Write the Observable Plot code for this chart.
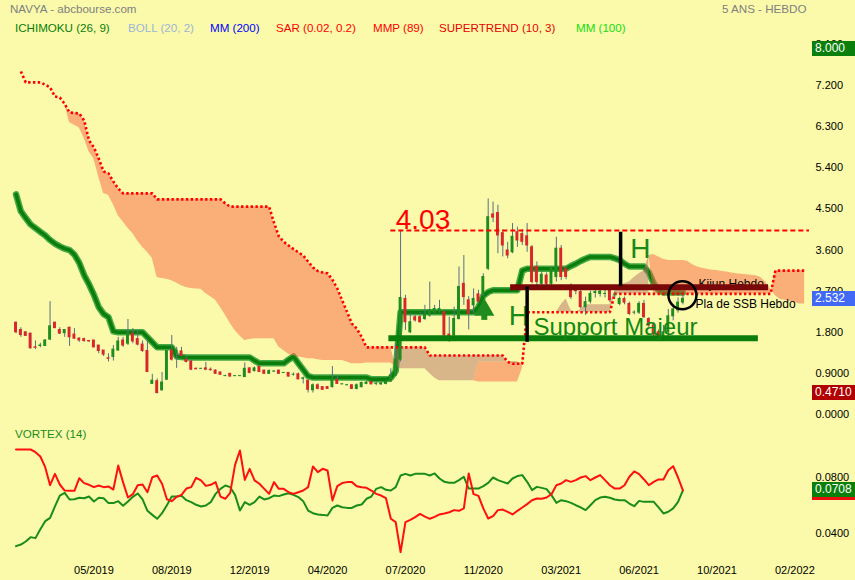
<!DOCTYPE html>
<html><head><meta charset="utf-8">
<script src="https://cdn.jsdelivr.net/npm/d3@7"></script>
<script src="https://cdn.jsdelivr.net/npm/@observablehq/plot@0.6"></script>
<style>
body{margin:0;background:#FAFAAA;}
#wrap{position:relative;width:855px;height:580px;background:#FAFAAA;overflow:hidden;font-family:"Liberation Sans",Arial,sans-serif;}
.t{position:absolute;white-space:nowrap;font-size:11.6px;line-height:14px;}
.tag{position:absolute;left:812px;width:43px;height:15px;line-height:15px;color:#fff;font-size:12px;padding-left:3px;box-sizing:border-box;white-space:nowrap;}
</style></head><body>
<div id="wrap">
<div id="main" style="position:absolute;left:0;top:0"></div>
<div id="vortex" style="position:absolute;left:0;top:425px"></div>
<div class="t" style="left:10px;top:2px;color:#808080">NAVYA - abcbourse.com</div>
<div class="t" style="left:722px;top:2px;color:#808080">5 ANS - HEBDO</div>
<div class="t" style="left:15px;top:21px;color:#0A7D0A">ICHIMOKU (26, 9)</div>
<div class="t" style="left:128px;top:21px;color:#9DB5D6">BOLL (20, 2)</div>
<div class="t" style="left:210px;top:21px;color:#0000FF">MM (200)</div>
<div class="t" style="left:276px;top:21px;color:#FF0000">SAR (0.02, 0.2)</div>
<div class="t" style="left:373px;top:21px;color:#FF0000">MMP (89)</div>
<div class="t" style="left:439px;top:21px;color:#E80000">SUPERTREND (10, 3)</div>
<div class="t" style="left:576px;top:21px;color:#11DD11">MM (100)</div>
<div class="t" style="left:15px;top:427px;color:#1A8C1A">VORTEX (14)</div>
</div>
<script>
// ---------- axis ticks ----------
const xTickIdx = [16, 32, 48, 64, 80, 96, 112, 128, 144, 160];
const xTickLabels = ["05/2019","08/2019","12/2019","04/2020","07/2020","11/2020","03/2021","06/2021","10/2021","02/2022"];
const priceTicks = [0, 0.9, 1.8, 2.7, 3.6, 4.5, 5.4, 6.3, 7.2, 8.1];
const vortexTicks = [0.04, 0.08];

// ---------- weekly candles ----------
const openP = [
2.01,1.85,1.80,1.77,1.47,1.50,1.50,1.64,2.01,1.85,
1.78,1.90,1.75,1.66,1.65,1.61,1.62,1.51,1.40,1.23,
1.26,1.40,1.62,1.55,1.77,1.65,1.53,1.39,0.67,0.73,
0.53,0.76,1.40,1.35,1.38,1.20,1.16,1.00,1.00,1.01,
0.98,0.96,0.92,0.84,0.89,0.84,0.84,0.82,1.01,0.95,
1.04,0.96,0.89,0.94,0.96,0.91,0.91,0.87,0.88,0.78,
0.74,0.53,0.64,0.60,0.60,0.60,0.76,0.66,0.64,0.64,
0.56,0.60,0.67,0.71,0.67,0.66,0.67,0.72,0.85,1.20,
2.53,1.80,2.13,2.13,2.09,2.17,2.24,2.26,2.24,1.75,
1.73,2.09,2.86,2.50,2.39,2.63,2.64,3.19,4.38,4.41,
3.97,3.59,3.55,3.99,3.95,3.90,3.66,3.23,2.86,3.04,
2.86,3.01,3.63,3.19,2.79,2.72,2.68,2.35,2.47,2.66,
2.64,2.64,2.75,2.61,2.42,2.53,2.42,2.23,2.23,2.42,
2.09,1.95,1.80,1.72,1.80,2.15,2.28,2.45];
const highP = [
2.02,1.90,1.81,1.78,1.61,1.56,1.64,2.47,2.02,1.90,
1.85,1.91,1.88,1.68,1.67,1.62,1.62,1.51,1.40,1.33,
1.51,1.69,1.69,2.08,1.88,1.84,1.61,1.64,0.88,0.78,
0.92,1.40,1.73,1.47,1.47,1.26,1.18,1.02,1.01,1.14,
1.02,0.98,0.93,0.86,0.90,0.85,0.85,1.13,1.02,1.04,
1.05,0.97,0.98,0.96,0.97,0.92,0.92,0.91,0.91,0.82,
0.76,0.67,0.67,0.61,0.61,1.05,0.85,0.68,0.66,0.65,
0.67,0.71,0.72,0.72,0.72,0.70,0.74,1.00,1.55,4.03,
2.61,2.20,2.20,2.24,2.39,2.90,2.39,2.50,2.28,2.13,
2.35,3.23,3.48,2.58,2.75,2.72,3.08,4.72,4.65,4.58,
4.04,3.77,4.18,4.10,4.05,4.18,3.70,3.34,3.12,3.10,
3.23,3.88,3.70,3.25,2.86,2.80,2.75,2.57,2.70,2.77,
2.75,2.72,2.80,2.68,2.57,2.57,2.46,2.27,2.47,2.50,
2.12,2.00,1.85,1.95,2.30,2.40,2.55,2.62];
const lowP = [
1.77,1.69,1.71,1.43,1.42,1.46,1.49,1.62,1.88,1.75,
1.69,1.49,1.64,1.58,1.58,1.58,1.46,1.33,1.27,1.15,
1.17,1.39,1.47,1.51,1.55,1.50,1.36,0.92,0.66,0.45,
0.51,0.75,1.17,1.01,1.26,1.13,0.96,0.98,0.99,0.96,
0.95,0.88,0.86,0.83,0.82,0.83,0.83,0.81,0.89,0.93,
0.92,0.88,0.88,0.92,0.88,0.90,0.82,0.84,0.76,0.67,
0.47,0.47,0.54,0.53,0.55,0.58,0.66,0.65,0.63,0.55,
0.54,0.58,0.65,0.65,0.63,0.64,0.65,0.70,0.83,1.15,
1.84,1.77,2.02,2.00,2.06,2.13,2.20,2.22,1.71,1.58,
1.69,2.07,2.39,1.85,2.20,2.42,2.57,3.15,4.20,3.52,
3.45,3.41,3.52,3.66,3.70,3.55,2.86,2.75,2.82,2.80,
2.82,2.90,2.93,2.95,2.52,2.62,2.31,2.17,2.42,2.55,
2.57,2.55,2.45,2.55,2.38,2.40,2.17,2.18,2.19,2.10,
1.90,1.70,1.62,1.65,1.70,2.05,2.22,2.40];
const closeP = [
1.80,1.74,1.72,1.45,1.46,1.51,1.62,1.93,1.89,1.77,
1.85,1.69,1.66,1.62,1.61,1.60,1.47,1.39,1.31,1.22,
1.42,1.60,1.51,1.77,1.60,1.53,1.39,0.93,0.74,0.47,
0.70,1.39,1.20,1.40,1.28,1.15,0.98,0.99,1.00,0.98,
0.97,0.89,0.87,0.84,0.83,0.84,0.84,1.00,0.91,1.01,
0.93,0.89,0.95,0.94,0.89,0.91,0.83,0.87,0.77,0.79,
0.54,0.64,0.56,0.54,0.56,0.78,0.67,0.66,0.64,0.56,
0.64,0.69,0.70,0.66,0.67,0.68,0.71,0.85,1.20,2.55,
2.02,2.02,2.06,2.02,2.19,2.28,2.31,2.31,1.73,1.72,
2.09,2.79,2.57,2.20,2.53,2.47,3.01,4.32,4.31,3.92,
3.70,3.48,3.89,3.81,3.78,3.70,2.90,2.90,3.06,2.86,
3.19,3.63,3.01,3.01,2.57,2.70,2.35,2.46,2.64,2.68,
2.69,2.64,2.50,2.61,2.53,2.45,2.20,2.23,2.42,2.13,
1.95,1.75,1.72,1.80,2.15,2.30,2.45,2.532];

// ---------- Ichimoku ----------
const kijun = [
4.82,4.45,4.30,4.16,4.08,4.00,3.92,3.82,3.74,3.68,
3.63,3.60,3.50,3.32,3.05,2.85,2.62,2.35,2.20,2.13,
1.82,1.80,1.80,1.80,1.80,1.80,1.80,1.69,1.58,1.47,
1.47,1.47,1.47,1.27,1.26,1.25,1.25,1.25,1.25,1.25,
1.25,1.25,1.25,1.25,1.25,1.25,1.25,1.25,1.25,1.18,
1.12,1.12,1.12,1.12,1.12,1.12,1.20,1.27,1.12,0.98,
0.84,0.81,0.81,0.81,0.81,0.81,0.81,0.81,0.81,0.81,
0.81,0.81,0.81,0.77,0.77,0.77,0.77,0.80,0.95,2.24,
2.24,2.24,2.24,2.24,2.24,2.24,2.24,2.24,2.24,2.24,
2.24,2.24,2.24,2.24,2.24,2.35,2.60,2.68,2.72,2.72,
2.72,2.72,2.72,2.72,3.15,3.19,3.19,3.19,3.19,3.19,
3.19,3.19,3.19,3.19,3.25,3.30,3.36,3.41,3.45,3.45,
3.45,3.45,3.45,3.42,3.38,3.30,3.24,3.24,3.24,3.24,
3.11,2.87,2.72,2.67,2.67,2.67,2.67,2.67];
// Senkou span B (red dotted), shifted 26 weeks ahead
const ssb = [
null,7.51,7.27,7.27,7.27,7.27,7.22,7.16,6.96,6.94,
6.80,6.61,6.60,6.59,6.44,6.00,5.85,5.60,5.32,5.28,
5.10,4.95,4.84,4.84,4.84,4.84,4.84,4.84,4.84,4.71,
4.71,4.71,4.71,4.71,4.71,4.71,4.71,4.71,4.71,4.71,
4.71,4.71,4.71,4.62,4.55,4.55,4.55,4.55,4.55,4.55,
4.55,4.55,4.55,4.20,3.90,3.78,3.70,3.62,3.55,3.48,
3.35,3.22,3.14,3.11,3.09,2.95,2.76,2.50,2.25,1.99,
1.88,1.70,1.47,1.47,1.47,1.47,1.47,1.47,1.47,1.47,
1.47,1.47,1.47,1.47,1.47,1.29,1.29,1.29,1.29,1.29,
1.29,1.29,1.29,1.29,1.29,1.29,1.29,1.29,1.29,1.29,
1.29,1.15,1.11,1.11,1.11,2.24,2.24,2.24,2.24,2.24,
2.24,2.24,2.24,2.24,2.24,2.24,2.24,2.24,2.24,2.24,
2.24,2.24,2.24,2.64,2.64,2.64,2.64,2.64,2.64,2.64,
2.64,2.64,2.64,2.64,2.64,2.64,2.64,2.64,2.64,2.64,
2.64,2.64,2.64,2.64,2.64,2.64,2.64,2.64,2.64,2.64,
2.64,2.64,2.64,2.64,2.64,2.64,3.15,3.15,3.15,3.15,
3.15,3.15,3.15];
// Senkou span A (other cloud edge)
const ssa = [
null,null,null,null,null,null,null,null,null,null,
6.80,6.39,6.33,6.28,6.05,5.75,5.60,5.20,4.84,4.80,
4.60,4.35,4.22,4.08,3.96,3.80,3.66,3.55,3.42,3.00,
2.98,2.96,2.93,2.88,2.82,2.78,2.76,2.75,2.74,2.65,
2.58,2.50,2.35,2.18,2.00,1.84,1.72,1.62,1.64,1.66,
1.66,1.66,1.66,1.66,1.48,1.40,1.32,1.28,1.26,1.24,
1.22,1.22,1.20,1.18,1.18,1.18,1.18,1.18,1.15,1.11,
1.11,1.11,1.13,1.13,1.13,1.13,1.13,1.13,1.05,1.00,
1.00,1.00,1.00,1.00,1.00,0.90,0.80,0.74,0.74,0.74,
0.74,0.74,0.74,0.74,0.74,0.71,0.71,0.71,0.71,0.71,
0.71,0.71,0.71,0.71,1.00,2.24,2.24,2.24,2.24,2.24,
2.24,2.24,2.40,2.53,2.28,2.24,2.30,2.40,2.40,2.40,
2.40,2.40,2.40,2.70,2.82,2.86,2.90,3.00,3.08,3.14,
3.48,3.50,3.45,3.40,3.37,3.37,3.37,3.37,3.35,3.28,
3.23,3.20,3.18,3.16,3.15,3.13,3.12,3.10,3.08,3.07,
3.06,3.05,3.04,3.00,2.90,2.75,2.60,2.52,2.50,2.48,
2.45,2.42,2.42];
// edge of the tan part of the cloud
const tanEdge = [
null,null,null,null,null,null,null,null,null,null,
null,null,null,null,null,null,null,null,null,null,
null,null,null,null,null,null,null,null,null,null,
null,null,null,null,null,null,null,null,null,null,
null,null,null,null,null,null,null,null,null,null,
null,null,null,null,null,null,null,null,null,null,
null,null,null,null,null,null,null,null,null,null,
null,null,null,null,null,null,null,null,1.05,1.00,
1.00,1.00,1.00,1.00,1.00,0.90,0.80,0.74,0.74,0.74,
0.74,0.74,0.74,0.74,0.74,1.15,1.15,1.15,1.15,1.15,
1.15,1.15,1.15,1.15,null,null,null,null,null,null,
null,2.24,2.40,2.53,2.28,2.24,2.30,2.40,2.40,2.40,
2.40,2.40,2.40,2.70,2.82,2.86,2.90,3.00,3.08,3.14,
3.48,null,null,null,null,null,null,null,null,null,
null,null,null,null,null,null,null,null,null,null,
null,null,null,null,null,null,null,null,null,null,
null,null,null];

// ---------- Vortex (14) ----------
const viPlus = [
0.0310,0.0321,0.0343,0.0374,0.0367,0.0431,0.0488,0.0512,0.0593,0.0671,
0.0690,0.0643,0.0645,0.0655,0.0652,0.0664,0.0629,0.0655,0.0652,0.0617,
0.0617,0.0631,0.0598,0.0629,0.0662,0.0686,0.0643,0.0562,0.0533,0.0505,
0.0545,0.0602,0.0664,0.0664,0.0669,0.0638,0.0624,0.0605,0.0593,0.0600,
0.0624,0.0683,0.0719,0.0743,0.0731,0.0676,0.0564,0.0624,0.0605,0.0624,
0.0664,0.0643,0.0652,0.0671,0.0667,0.0679,0.0688,0.0676,0.0660,0.0631,
0.0564,0.0545,0.0536,0.0533,0.0529,0.0583,0.0600,0.0588,0.0583,0.0583,
0.0600,0.0607,0.0648,0.0664,0.0719,0.0731,0.0712,0.0707,0.0731,0.0814,
0.0826,0.0814,0.0826,0.0826,0.0826,0.0814,0.0829,0.0793,0.0769,0.0762,
0.0762,0.0781,0.0805,0.0721,0.0721,0.0721,0.0738,0.0762,0.0800,0.0781,
0.0769,0.0757,0.0793,0.0810,0.0817,0.0769,0.0710,0.0733,0.0726,0.0717,
0.0674,0.0619,0.0638,0.0631,0.0619,0.0602,0.0586,0.0567,0.0602,0.0638,
0.0657,0.0662,0.0655,0.0643,0.0638,0.0638,0.0614,0.0595,0.0633,0.0626,
0.0626,0.0626,0.0586,0.0543,0.0555,0.0579,0.0626,0.0708];
const viMinus = [
0.1000,0.1000,0.1000,0.1000,0.0981,0.0950,0.0874,0.0745,0.0826,0.0750,
0.0707,0.0705,0.0705,0.0795,0.0760,0.0748,0.0731,0.0743,0.0731,0.0736,
0.0714,0.0885,0.0765,0.0657,0.0681,0.0745,0.0750,0.0695,0.0802,0.0814,
0.0755,0.0645,0.0631,0.0662,0.0676,0.0721,0.0731,0.0798,0.0779,0.0740,
0.0748,0.0767,0.0664,0.0648,0.0690,0.0890,0.0993,0.0783,0.0862,0.0779,
0.0755,0.0719,0.0683,0.0767,0.0719,0.0719,0.0695,0.0683,0.0695,0.0707,
0.0731,0.0879,0.0838,0.0862,0.0850,0.0636,0.0738,0.0760,0.0767,0.0767,
0.0738,0.0731,0.0726,0.0707,0.0683,0.0671,0.0652,0.0505,0.0481,0.0267,
0.0481,0.0498,0.0517,0.0540,0.0521,0.0505,0.0519,0.0536,0.0543,0.0552,
0.0567,0.0562,0.0579,0.0829,0.0681,0.0669,0.0579,0.0507,0.0524,0.0567,
0.0571,0.0555,0.0536,0.0562,0.0586,0.0610,0.0638,0.0650,0.0648,0.0657,
0.0681,0.0745,0.0757,0.0781,0.0769,0.0781,0.0800,0.0810,0.0781,0.0800,
0.0817,0.0781,0.0745,0.0721,0.0721,0.0745,0.0805,0.0843,0.0824,0.0786,
0.0745,0.0769,0.0786,0.0786,0.0852,0.0881,0.0800,0.0708];

// ---------- annotations (data units: week index / price) ----------
const level403 = [{value: 4.03, from: 77, to: 163}];
const priceNote = [{text: "4.03", i: 78, v: 4.07}];
const supportLine = [{value: 1.67, from: 76.6, to: 152.5}];
const kijunHebdoLine = [{value: 2.785, from: 101.6, to: 154.6}];
const blackBars = [{i: 105.0, low: 1.58, high: 2.79}, {i: 124.2, low: 2.80, high: 3.99}];
const hNotes = [{text: "H", i: 101.2, v: 1.95}, {text: "H", i: 126.2, v: 3.42}];
const supportNote = [{text: "Support Majeur", i: 106.3, v: 1.75}];
const blackNotes = [{text: "Kijun Hebdo", i: 140.2, v: 2.78}, {text: "Pla de SSB Hebdo", i: 139.6, v: 2.34}];
const circleNote = [{i: 136.9, v: 2.61}];
const arrowNote = [{i: 96.2, base: 2.06, top: 2.25, head: 2.29}];
const priceTags = [8.0, 2.532, 0.471];
const vortexTag = [0.0708, 0.0708];

// ---------- style constants ----------
const FONT = "Liberation Sans, Arial, sans-serif";
const GREEN = "#1E8C1E", RED = "#D8262A";
const priceTagColors = ["#0B7F0B", "#4169F5", "#B00000"];
const vortexTagColors = ["#E81010", "#0B7F0B"];
const vortexTagShift = [3, 0];
const fmtPrice = d => d < 1 ? d.toFixed(4) : d.toFixed(3);

const candles = openP.map((o, i) => ({i, o, h: highP[i], l: lowP[i], c: closeP[i]}));
const cloud = ssb.map((b, i) => ({i, b, a: ssa[i], t: tanEdge[i]}));

const xScale = {domain: [0, 160], range: [15.5, 15.5 + 160 * 4.868], axis: null};

const main = Plot.plot({
  width: 855, height: 425,
  marginLeft: 0, marginRight: 44, marginTop: 0, marginBottom: 0,
  x: xScale,
  y: {domain: [0, 8.1], range: [414, 44], axis: null},
  style: {background: "transparent", fontFamily: FONT, fontSize: "11px", color: "#000", overflow: "visible"},
  marks: [
    Plot.line(kijun, {x: (d, i) => i, y: d => d, stroke: "#45A845", strokeWidth: 6.5}),
    Plot.line(kijun, {x: (d, i) => i, y: d => d, stroke: "#0A7D0A", strokeWidth: 3.5}),
    Plot.areaY(cloud, {x: "i", y1: d => (d.t ?? d.b), y2: "a", fill: "rgb(252,100,70)", fillOpacity: 0.5}),
    Plot.areaY(cloud, {x: "i", y1: "b", y2: "t", fill: "rgb(184,114,106)", fillOpacity: 0.5}),
    Plot.line(ssb, {x: (d, i) => i, y: d => d, stroke: "#FF0000", strokeWidth: 2.6, strokeDasharray: "2.4,2.4", strokeLinecap: "butt", strokeLinejoin: "miter"}),
    Plot.ruleX(candles, {x: "i", y1: "l", y2: "h", stroke: "#5A6E84", strokeWidth: 1}),
    Plot.rect(candles.filter(d => d.c >= d.o), {x1: d => d.i - 0.3, x2: d => d.i + 0.3, y1: "o", y2: "c", fill: GREEN, insetTop: -0.5, insetBottom: -0.5}),
    Plot.rect(candles.filter(d => d.c < d.o), {x1: d => d.i - 0.3, x2: d => d.i + 0.3, y1: "c", y2: "o", fill: RED, insetTop: -0.5, insetBottom: -0.5}),
    Plot.ruleY(level403, {y: "value", x1: "from", x2: "to", stroke: "#FF0000", strokeWidth: 2, strokeDasharray: "5,3", strokeLinecap: "butt"}),
    Plot.text(priceNote, {x: "i", y: "v", text: "text", fill: "#FF0000", fontSize: 28, textAnchor: "start", lineAnchor: "bottom"}),
    Plot.ruleY(supportLine, {y: "value", x1: "from", x2: "to", stroke: "#0B7D0B", strokeWidth: 6}),
    Plot.text(supportNote, {x: "i", y: "v", text: "text", fill: "#118811", fontSize: 24, textAnchor: "start", lineAnchor: "bottom"}),
    Plot.text(hNotes, {x: "i", y: "v", text: "text", fill: "#178A17", fontSize: 28, textAnchor: "start", lineAnchor: "bottom"}),
    Plot.text(blackNotes, {x: "i", y: "v", text: "text", fill: "#000", fontSize: 12, textAnchor: "start", lineAnchor: "bottom"}),
    Plot.ruleY(kijunHebdoLine, {y: "value", x1: "from", x2: "to", stroke: "#7A0808", strokeWidth: 6}),
    Plot.ruleX(blackBars, {x: "i", y1: "low", y2: "high", stroke: "#000", strokeWidth: 3.5}),
    Plot.dot(circleNote, {x: "i", y: "v", r: 14, stroke: "#000", strokeWidth: 2.5, fill: "none"}),
    Plot.ruleX(arrowNote, {x: "i", y1: "base", y2: "top", stroke: "#1E8C1E", strokeWidth: 6}),
    Plot.dot(arrowNote, {x: "i", y: "head", symbol: "triangle", r: 6.5, fill: "#1E8C1E", stroke: "#1E8C1E"}),
    Plot.axisY({anchor: "right", ticks: priceTicks, tickFormat: fmtPrice, tickSize: 0, tickPadding: 4, label: null, fontSize: 11})
  ]
});
document.getElementById("main").append(main);

const vortex = Plot.plot({
  width: 855, height: 155,
  marginLeft: 0, marginRight: 44, marginTop: 0, marginBottom: 17,
  x: xScale,
  y: {domain: [0.02, 0.105], range: [136, 17], axis: null},
  style: {background: "transparent", fontFamily: FONT, fontSize: "11px", color: "#000", overflow: "visible"},
  marks: [
    Plot.line(viPlus, {x: (d, i) => i, y: d => d, stroke: "#1A8C1A", strokeWidth: 2}),
    Plot.line(viMinus, {x: (d, i) => i, y: d => d, stroke: "#FF1010", strokeWidth: 2}),
    Plot.axisY({anchor: "right", ticks: vortexTicks, tickFormat: d => d.toFixed(4), tickSize: 0, tickPadding: 4, label: null, fontSize: 11}),
    Plot.axisX({anchor: "bottom", ticks: xTickIdx, tickFormat: d => xTickLabels[xTickIdx.indexOf(d)], tickSize: 0, tickPadding: 3, label: null, fontSize: 11})
  ]
});
document.getElementById("vortex").append(vortex);

// value tags on the right axis, positioned with the plots' own y scales
const wrap = document.getElementById("wrap");
function addTags(plot, top, values, colors, fmt, shifts) {
  const y = plot.scale("y");
  values.forEach((v, k) => {
    const div = document.createElement("div");
    div.className = "tag";
    div.style.top = (top + y.apply(v) - 7.5 + (shifts ? shifts[k] : 0)) + "px";
    div.style.background = colors[k];
    div.textContent = fmt(v);
    wrap.append(div);
  });
}
addTags(main, 0, priceTags, priceTagColors, fmtPrice);
addTags(vortex, 425, vortexTag, vortexTagColors, d => d.toFixed(4), vortexTagShift);
</script>
</body></html>
